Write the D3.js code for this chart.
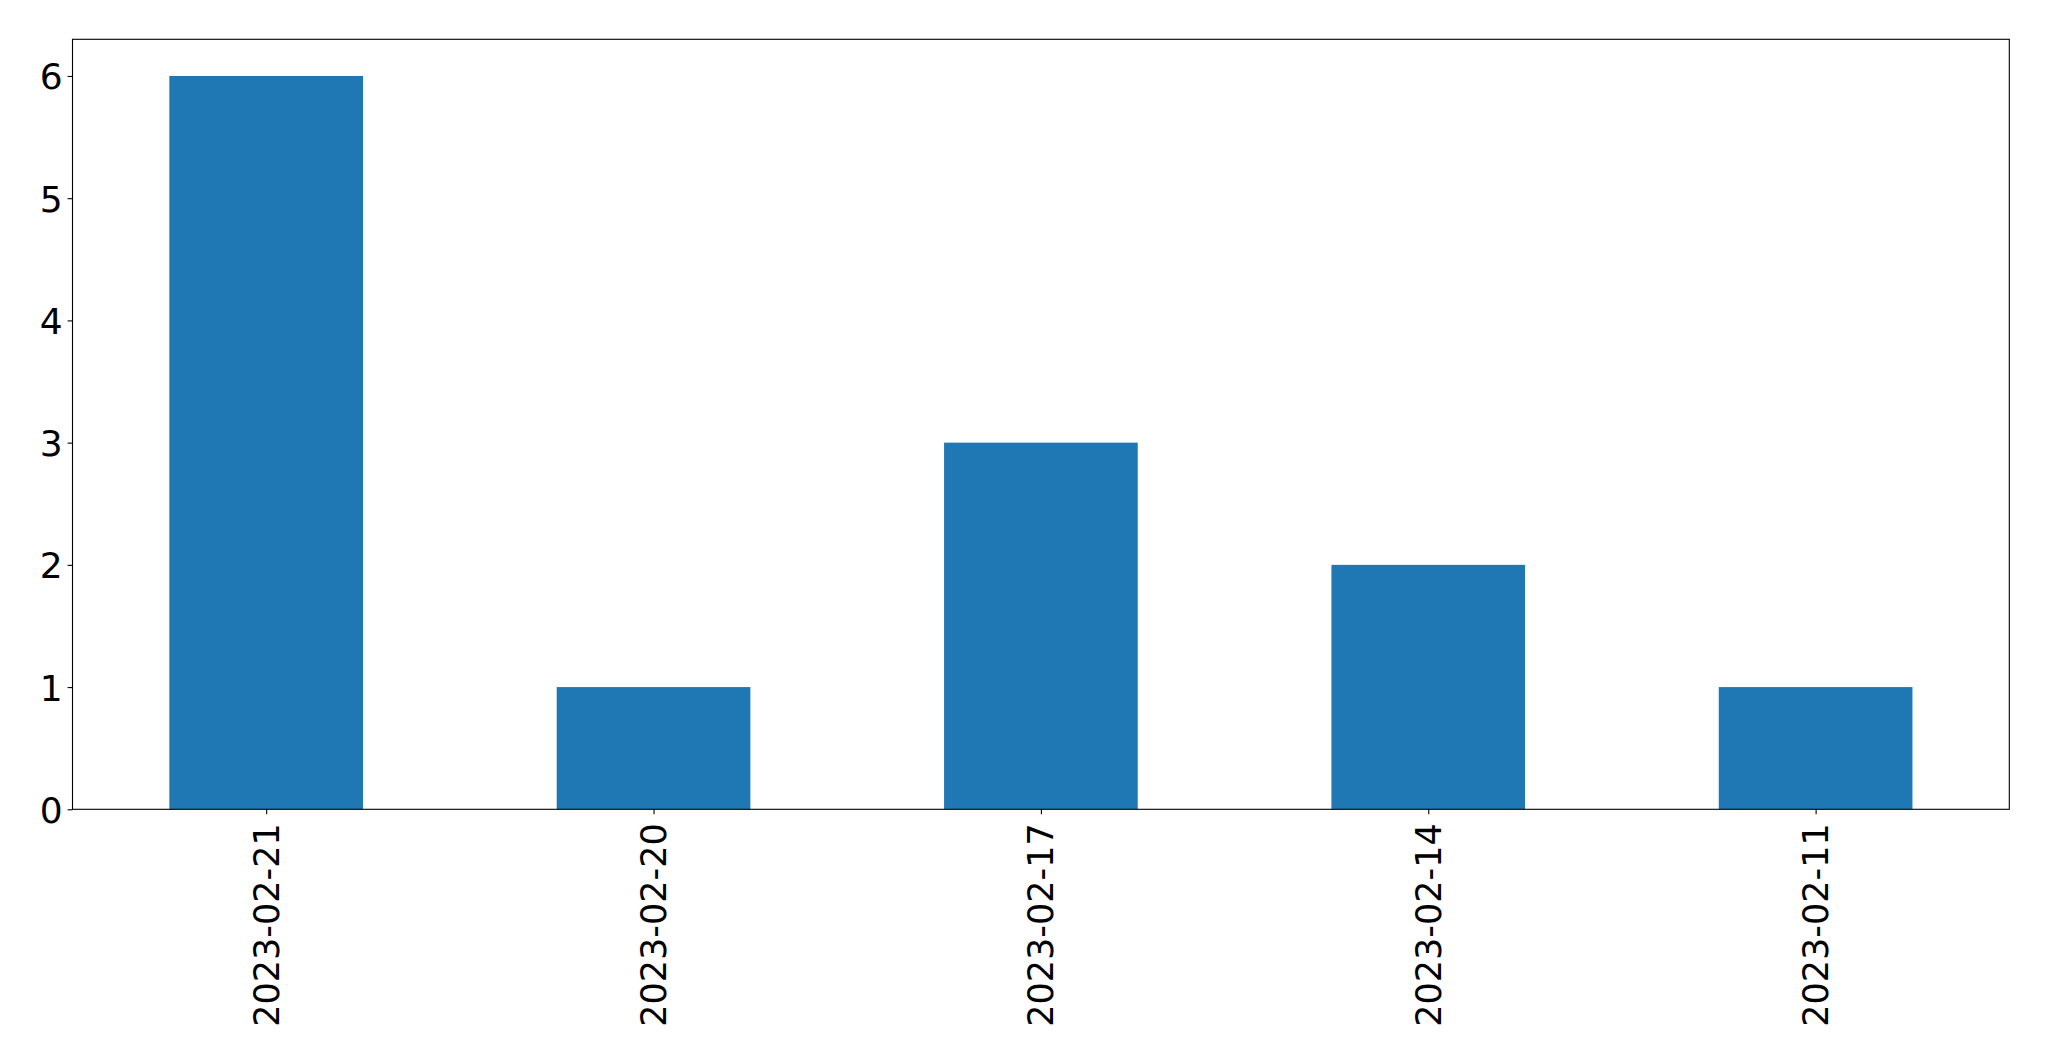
<!DOCTYPE html>
<html><head><meta charset="utf-8">
<script src="https://cdn.jsdelivr.net/npm/d3@7"></script>
<style>body{margin:0;background:#fff}svg{display:block}</style>
</head><body>
<script>
const categories = ["2023-02-21","2023-02-20","2023-02-17","2023-02-14","2023-02-11"];
const values = [6,1,3,2,1];
const yTicks = [0,1,2,3,4,5,6];

const W = 2049, H = 1061;
const m = {left:72.5, right:2009.3, top:39.3, bottom:809.3};
const svg = d3.select("body").append("svg").attr("width",W).attr("height",H);

const x = d3.scaleLinear().domain([-0.5, categories.length-0.5]).range([m.left, m.right]);
const y = d3.scaleLinear().domain([0, 6.3]).range([m.bottom, m.top]);

svg.selectAll("rect.bar").data(values).enter().append("rect")
  .attr("class","bar")
  .attr("x",(d,i)=>x(i-0.25)).attr("width",(d,i)=>x(i+0.25)-x(i-0.25))
  .attr("y",d=>y(d)).attr("height",d=>y(0)-y(d))
  .attr("fill","#1f77b4");

const font = "DejaVu Sans";

const yAxis = svg.append("g").attr("transform",`translate(${m.left},0)`)
  .call(d3.axisLeft(y).tickValues(yTicks).tickFormat(d3.format("d")).tickSize(4.9).tickPadding(5));
yAxis.select(".domain").remove();
yAxis.selectAll("line").attr("stroke","#000").attr("stroke-width",1.1);
yAxis.selectAll("text").attr("font-family",font).attr("font-size",36).attr("fill","#000").attr("dy","0.36em");

const xAxis = svg.append("g").attr("transform",`translate(0,${m.bottom})`)
  .call(d3.axisBottom(x).tickValues(d3.range(categories.length)).tickFormat(i=>categories[i]).tickSize(4.9).tickPadding(6));
xAxis.select(".domain").remove();
xAxis.selectAll("line").attr("stroke","#000").attr("stroke-width",1.1);
xAxis.selectAll("text").attr("font-family",font).attr("font-size",35).attr("fill","#000")
  .attr("text-anchor","end").attr("dy",null).attr("y",0)
  .attr("dominant-baseline","central")
  .attr("transform","translate(0,14) rotate(-90)");

svg.append("rect").attr("x",m.left).attr("y",m.top).attr("width",m.right-m.left).attr("height",m.bottom-m.top)
  .attr("fill","none").attr("stroke","#000").attr("stroke-width",1.1);
</script>
</body></html>
